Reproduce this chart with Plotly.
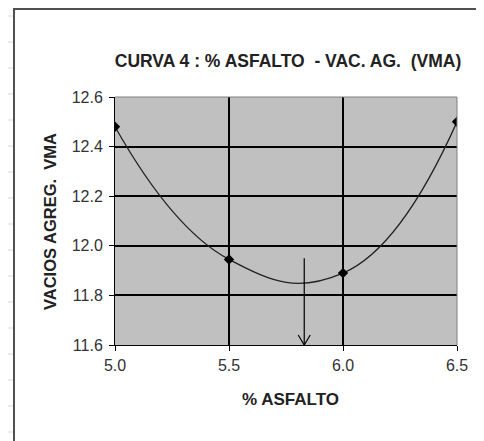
import plotly.graph_objects as go

# ---- data ----
asfalto = [5.0, 5.5, 6.0, 6.5]
vma = [12.48, 11.945, 11.89, 12.50]
x_ticks = [5.0, 5.5, 6.0, 6.5]
x_tick_labels = ["5.0", "5.5", "6.0", "6.5"]
y_ticks = [11.6, 11.8, 12.0, 12.2, 12.4, 12.6]
y_tick_labels = ["11.6", "11.8", "12.0", "12.2", "12.4", "12.6"]
optimo_x = 5.83          # % asfalto at minimum VMA (arrow)
optimo_top = 11.95       # arrow starts here
title_text = "CURVA 4 : % ASFALTO \u00a0- VAC. AG. \u00a0(VMA)"
x_title = "% ASFALTO"
y_title = "VACIOS AGREG. \u00a0VMA"

# page is 484x441; the html body has an 8px margin
OFF = 8
PAGE_W, PAGE_H = 484, 441
PL, PR, PT, PB = 115, 457, 97, 345   # plot area in page pixels
W, H = PAGE_W - OFF, PAGE_H - OFF
L, T = PL - OFF, PT - OFF
R, B = PAGE_W - PR, PAGE_H - PB
pw, ph = PR - PL, PB - PT

def px(xp):
    return (xp - PL) / pw

def py(yp):
    return (PB - yp) / ph

FONT = "Liberation Sans, Arial, sans-serif"

fig = go.Figure()
fig.add_trace(go.Scatter(
    x=asfalto, y=vma, mode="lines+markers",
    line=dict(color="#222222", width=1.3, shape="spline", smoothing=1.3),
    marker=dict(symbol="diamond", size=8, color="black"),
    showlegend=False, hoverinfo="x+y"))

shapes = []
# spreadsheet background lines
for yy in range(16, 441, 26):
    shapes.append(dict(type="line", xref="paper", yref="paper",
                       x0=px(0), x1=px(13), y0=py(yy), y1=py(yy),
                       line=dict(color="#d9d9d9", width=1), layer="above"))
# chart area border
shapes.append(dict(type="line", xref="paper", yref="paper",
                   x0=px(14), x1=px(14), y0=py(9), y1=py(445),
                   line=dict(color="#505050", width=2), layer="above"))
shapes.append(dict(type="line", xref="paper", yref="paper",
                   x0=px(13), x1=px(490), y0=py(9), y1=py(9),
                   line=dict(color="#505050", width=2), layer="above"))
# plot area top/right border (gray)
shapes.append(dict(type="line", xref="paper", yref="paper",
                   x0=0, x1=1, y0=1, y1=1,
                   line=dict(color="#808080", width=1), layer="above"))
shapes.append(dict(type="line", xref="paper", yref="paper",
                   x0=1, x1=1, y0=0, y1=1,
                   line=dict(color="#808080", width=1), layer="above"))
# arrow at optimum
head_dx = 6 / pw * (x_ticks[-1] - x_ticks[0])
head_dy = 10 / ph * (y_ticks[-1] - y_ticks[0])
ybot = y_ticks[0]
shapes.append(dict(type="line", xref="x", yref="y",
                   x0=optimo_x, x1=optimo_x, y0=optimo_top, y1=ybot,
                   line=dict(color="black", width=1.2), layer="above"))
for s in (-1, 1):
    shapes.append(dict(type="line", xref="x", yref="y",
                       x0=optimo_x + s * head_dx, x1=optimo_x,
                       y0=ybot + head_dy, y1=ybot,
                       line=dict(color="black", width=1.2), layer="above"))

annotations = [
    dict(text=y_title, xref="paper", yref="paper", x=px(50), y=py(222),
         textangle=-90, showarrow=False, xanchor="center", yanchor="middle",
         font=dict(family=FONT, size=16.5, color="#222222", weight="bold")),
    dict(text=x_title, xref="paper", yref="paper", x=px(290), y=py(399),
         showarrow=False, xanchor="center", yanchor="middle",
         font=dict(family=FONT, size=17, color="#222222", weight="bold")),
]

fig.update_layout(
    width=W, height=H,
    margin=dict(l=L, r=R, t=T, b=B, pad=0),
    paper_bgcolor="white", plot_bgcolor="#c0c0c0",
    title=dict(text=title_text, x=px(288), xref="paper", xanchor="center",
               y=1 - (61 - OFF) / H, yanchor="middle", yref="container",
               font=dict(family=FONT, size=17.5, color="#222222", weight="bold")),
    shapes=shapes, annotations=annotations,
    font=dict(family=FONT, size=16, color="#333333"),
)
fig.update_xaxes(range=[x_ticks[0], x_ticks[-1]], tickvals=x_ticks,
                 ticktext=x_tick_labels, showgrid=True, gridcolor="black",
                 gridwidth=1.5, showline=True, linecolor="black", linewidth=1,
                 ticks="outside", ticklen=5, tickcolor="black",
                 zeroline=False, ticklabelstandoff=1)
fig.update_yaxes(range=[y_ticks[0], y_ticks[-1]], tickvals=y_ticks,
                 ticktext=y_tick_labels, showgrid=True, gridcolor="black",
                 gridwidth=1.5, showline=True, linecolor="black", linewidth=1,
                 ticks="outside", ticklen=5, tickcolor="black",
                 zeroline=False, ticklabelstandoff=3)

fig.write_html("out.html")
